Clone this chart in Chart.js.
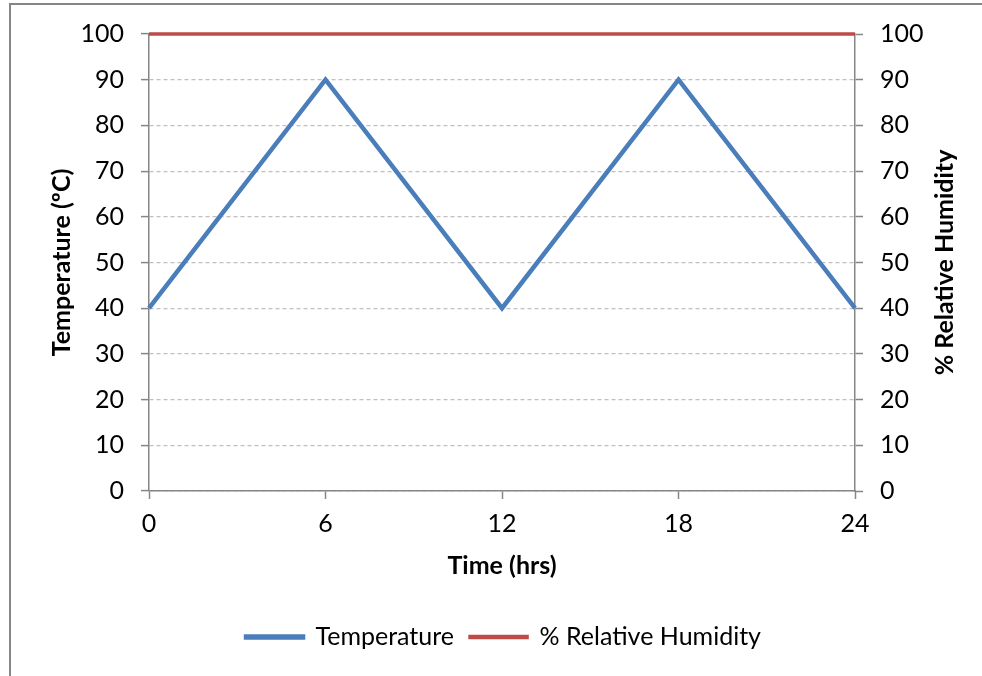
<!DOCTYPE html>
<html>
<head>
<meta charset="utf-8">
<script src="https://cdn.jsdelivr.net/npm/chart.js@4/dist/chart.umd.min.js"></script>
<style>
    html, body { margin: 0; padding: 0; background: #fff; overflow: hidden; }
    #myChart { display: block; }
</style>
</head>
<body>
<canvas id="myChart" width="982" height="676"></canvas>
<script>
// data
const timeHrs = [0, 6, 12, 18, 24];
const temperature = [40, 90, 40, 90, 40];
const humidity = [100, 100, 100, 100, 100];

const seriesNames = ['Temperature', '% Relative Humidity'];
const axisTitles = { x: 'Time (hrs)', y: 'Temperature (ºC)', y1: '% Relative Humidity' };

const fontFamily = 'Lato, "Open Sans", sans-serif';
const fontSize = 25;
const axisGray = '#868686';
const gridGray = '#c0c0c0';

// outer frame like the Excel chart border
const framePlugin = {
    id: 'frame',
    beforeDraw(chart) {
        const ctx = chart.ctx;
        ctx.save();
        ctx.strokeStyle = axisGray;
        ctx.lineWidth = 2;
        ctx.beginPath();
        ctx.moveTo(10, 676);
        ctx.lineTo(10, 4);
        ctx.lineTo(982, 4);
        ctx.stroke();
        ctx.restore();
    }
};

// right axis title reads bottom-to-top in the reference, Chart.js rotates it the other way
const rightTitlePlugin = {
    id: 'rightTitle',
    afterDraw(chart) {
        const ctx = chart.ctx;
        const area = chart.chartArea;
        ctx.save();
        ctx.translate(945, (area.top + area.bottom) / 2);
        ctx.rotate(-Math.PI / 2);
        ctx.font = 'bold ' + fontSize + 'px ' + fontFamily;
        ctx.fillStyle = '#000';
        ctx.textAlign = 'center';
        ctx.textBaseline = 'middle';
        ctx.fillText(axisTitles.y1, 0, 0);
        ctx.restore();
    }
};

const toPoints = (ys) => timeHrs.map((t, i) => ({ x: t, y: ys[i] }));

const ctx = document.getElementById('myChart').getContext('2d');
new Chart(ctx, {
    type: 'line',
    data: {
        datasets: [{
            label: seriesNames[0],
            data: toPoints(temperature),
            borderColor: '#4a7ebb',
            backgroundColor: '#4a7ebb',
            borderWidth: 4.5,
            borderJoinStyle: 'miter',
            pointRadius: 0,
            tension: 0,
            clip: 4,
            yAxisID: 'y'
        }, {
            label: seriesNames[1],
            data: toPoints(humidity),
            borderColor: '#be4b48',
            backgroundColor: '#be4b48',
            borderWidth: 3.5,
            pointRadius: 0,
            tension: 0,
            clip: 4,
            yAxisID: 'y1'
        }]
    },
    options: {
        responsive: false,
        animation: false,
        devicePixelRatio: 1,
        layout: { padding: { left: 40, right: 15, top: 34, bottom: 16.5 } },
        plugins: {
            tooltip: { enabled: false },
            legend: {
                position: 'bottom',
                labels: {
                    color: '#000',
                    font: { family: fontFamily, size: fontSize },
                    boxWidth: 57,
                    boxHeight: 1,
                    padding: 16
                }
            }
        },
        scales: {
            x: {
                type: 'linear',
                min: 0,
                max: 24,
                ticks: { stepSize: 6, color: '#000', padding: 10, font: { family: fontFamily, size: fontSize } },
                grid: { drawOnChartArea: false, drawTicks: true, tickLength: 8, tickColor: axisGray, tickWidth: 1.5 },
                border: { color: axisGray, width: 1.5 },
                title: { display: true, text: axisTitles.x, color: '#000', padding: { top: 0, bottom: 27.5 }, font: { family: fontFamily, size: fontSize, weight: 'bold' } },
                afterFit(scale) { scale.height = 117.5; }
            },
            y: {
                position: 'left',
                min: 0,
                max: 100,
                ticks: { stepSize: 10, color: '#000', padding: 17, font: { family: fontFamily, size: fontSize } },
                grid: { color: gridGray, lineWidth: 1.2, tickLength: 8, tickColor: axisGray, tickWidth: 1.5 },
                border: { color: axisGray, width: 1.5, dash: [4, 3] },
                title: { display: true, text: axisTitles.y, color: '#000', padding: { top: 7, bottom: 0 }, font: { family: fontFamily, size: fontSize, weight: 'bold' } },
                afterFit(scale) { scale.width = 109; }
            },
            y1: {
                position: 'right',
                min: 0,
                max: 100,
                ticks: { stepSize: 10, color: '#000', padding: 17, font: { family: fontFamily, size: fontSize } },
                grid: { drawOnChartArea: false, tickLength: 8, tickColor: axisGray, tickWidth: 1.5 },
                border: { color: axisGray, width: 1.5 },
                title: { display: false },
                afterFit(scale) { scale.width = 112; }
            }
        }
    },
    plugins: [framePlugin, rightTitlePlugin]
});
</script>
</body>
</html>
